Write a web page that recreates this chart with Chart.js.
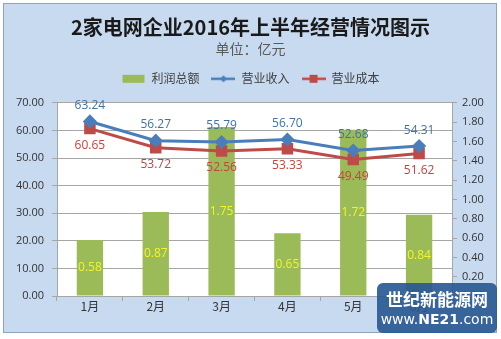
<!DOCTYPE html>
<html>
<head>
<meta charset="utf-8">
<script src="https://cdn.jsdelivr.net/npm/chart.js"></script>
<style>
  html, body { margin: 0; padding: 0; background: #fff; }
  #wrap { position: relative; width: 501px; height: 339px; }
  #frame {
    position: absolute; left: 3px; top: 3px; width: 492px; height: 328px;
    background: #c8daf0; border: 1px solid #8ea3bd;
  }
  #c { position: absolute; left: 0; top: 0; }
  /* 水印 */
  #logo {
    position: absolute; left: 377px; top: 283px; width: 120px; height: 50px;
    background: rgba(38, 86, 145, 0.9); border-radius: 6px; color: #fff;
    text-align: center; font-family: "Noto Sans CJK SC", sans-serif;
  }
  #logo .cn { font-size: 17px; font-weight: bold; line-height: 22px; padding-top: 5px; }
  #logo .en { font-size: 14px; line-height: 18px; font-family: "DejaVu Sans", sans-serif; }
  #logo .en b { font-weight: bold; }
</style>
</head>
<body>
<div id="wrap">
  <div id="frame"></div>
  <canvas id="c" width="501" height="339"></canvas>
  <div id="logo"><div class="cn">世纪新能源网</div><div class="en">www.<b>NE21</b>.com</div></div>
</div>
<script>
// 月份和三组数据
const months = ['1月', '2月', '3月', '4月', '5月', '6月'];
const profit = [0.58, 0.87, 1.75, 0.65, 1.72, 0.84];
const revenue = [63.24, 56.27, 55.79, 56.70, 52.68, 54.31];
const cost = [60.65, 53.72, 52.56, 53.33, 49.49, 51.62];

const GREEN = '#9bbb59';
const BLUE = '#4a7ebb';
const RED = '#be4b48';
const GRID = '#a6a6a6';

// 图例小图标
function legendIcon(type) {
    const cv = document.createElement('canvas');
    cv.width = 24; cv.height = 10;
    const g = cv.getContext('2d');
    if (type === 'bar') {
        g.fillStyle = GREEN;
        g.fillRect(1, 1, 22, 8);
    } else {
        const col = type === 'rev' ? BLUE : RED;
        g.strokeStyle = col; g.lineWidth = 2.5;
        g.beginPath(); g.moveTo(0, 5); g.lineTo(24, 5); g.stroke();
        g.fillStyle = col;
        if (type === 'rev') {
            g.beginPath(); g.moveTo(12, 1.5); g.lineTo(15.5, 5); g.lineTo(12, 8.5); g.lineTo(8.5, 5); g.closePath(); g.fill();
        } else {
            g.fillRect(8, 1, 8, 8);
        }
    }
    return cv;
}
const icons = [legendIcon('bar'), legendIcon('rev'), legendIcon('cost')];

// 绘图区白底
const plotBg = {
    id: 'plotBg',
    beforeDraw(chart) {
        const a = chart.chartArea, ctx = chart.ctx;
        ctx.save();
        ctx.fillStyle = '#fff';
        ctx.fillRect(a.left, a.top, a.right - a.left, a.bottom - a.top);
        ctx.restore();
    }
};

// 图例下方留空
const legendGap = {
    id: 'legendGap',
    beforeInit(chart) {
        const fit = chart.legend.fit;
        chart.legend.fit = function () {
            fit.bind(chart.legend)();
            this.height += 8;
        };
    }
};

// 数值标签
const valueLabels = {
    id: 'valueLabels',
    afterDatasetsDraw(chart) {
        const ctx = chart.ctx;
        ctx.save();
        ctx.font = '12px "Open Sans", sans-serif';
        ctx.textAlign = 'center';
        ctx.textBaseline = 'middle';
        chart.getDatasetMeta(0).data.forEach((bar, i) => {
            ctx.fillStyle = '#f2f527';
            ctx.fillText(profit[i].toFixed(2), bar.x, (bar.y + bar.base) / 2);
        });
        chart.getDatasetMeta(1).data.forEach((pt, i) => {
            ctx.fillStyle = '#3f72a8';
            ctx.fillText(revenue[i].toFixed(2), pt.x, pt.y - 16);
        });
        chart.getDatasetMeta(2).data.forEach((pt, i) => {
            ctx.fillStyle = '#c9403c';
            ctx.fillText(cost[i].toFixed(2), pt.x, pt.y + 17);
        });
        ctx.restore();
    }
};

new Chart(document.getElementById('c'), {
    data: {
        labels: months,
        datasets: [
            {
                type: 'bar', label: '利润总额', data: profit, yAxisID: 'y1',
                backgroundColor: GREEN, categoryPercentage: 1, barPercentage: 0.4, order: 3
            },
            {
                type: 'line', label: '营业收入', data: revenue, yAxisID: 'y',
                borderColor: BLUE, backgroundColor: BLUE, borderWidth: 3,
                pointStyle: 'rectRot', pointRadius: 5, tension: 0, order: 1
            },
            {
                type: 'line', label: '营业成本', data: cost, yAxisID: 'y',
                borderColor: RED, backgroundColor: RED, borderWidth: 3,
                pointStyle: 'rect', pointRadius: 6, tension: 0, order: 2
            }
        ]
    },
    options: {
        responsive: false,
        animation: false,
        layout: { padding: { left: 0, right: 0, top: 0, bottom: 0 } },
        plugins: {
            title: {
                display: true,
                text: '2家电网企业2016年上半年经营情况图示',
                color: '#1a1a1a',
                font: { family: '"Noto Sans CJK SC", sans-serif', size: 20, weight: 'bold' },
                padding: { top: 15, bottom: 1 }
            },
            subtitle: {
                display: true,
                text: '单位：亿元',
                color: '#595959',
                font: { family: '"Noto Sans CJK SC", sans-serif', size: 14 },
                padding: { top: 0, bottom: 4 }
            },
            legend: {
                display: true,
                labels: {
                    usePointStyle: true,
                    pointStyleWidth: 24,
                    boxHeight: 10,
                    padding: 12,
                    color: '#404040',
                    font: { family: '"Noto Sans CJK SC", sans-serif', size: 12 },
                    generateLabels(chart) {
                        return chart.data.datasets.map((ds, i) => ({
                            text: ds.label, pointStyle: icons[i], datasetIndex: i,
                            fillStyle: 'transparent', strokeStyle: 'transparent', lineWidth: 0,
                            fontColor: '#404040', hidden: false
                        }));
                    }
                }
            },
            tooltip: { enabled: false }
        },
        scales: {
            x: {
                offset: true,
                grid: { display: true, drawOnChartArea: false, offset: true, color: GRID, tickLength: 5 },
                border: { color: GRID },
                ticks: {
                    color: '#333',
                    font: { family: '"Noto Sans CJK SC", sans-serif', size: 12 },
                    padding: -2
                },
                afterFit(scale) { scale.height = 43; }
            },
            y: {
                position: 'left',
                min: 0, max: 70,
                ticks: {
                    stepSize: 10, color: '#333', padding: 8,
                    font: { family: '"Open Sans", sans-serif', size: 11 },
                    callback: v => v.toFixed(2)
                },
                grid: { color: GRID, tickLength: 5 },
                border: { color: GRID },
                afterFit(scale) { scale.width = 57; }
            },
            y1: {
                position: 'right',
                min: 0, max: 2,
                ticks: {
                    stepSize: 0.2, color: '#333', padding: 5,
                    font: { family: '"Open Sans", sans-serif', size: 11 },
                    callback: v => v.toFixed(2)
                },
                grid: { drawOnChartArea: false, color: GRID, tickLength: 5 },
                border: { color: GRID },
                afterFit(scale) { scale.width = 49; }
            }
        }
    },
    plugins: [plotBg, legendGap, valueLabels]
});
</script>
</body>
</html>
